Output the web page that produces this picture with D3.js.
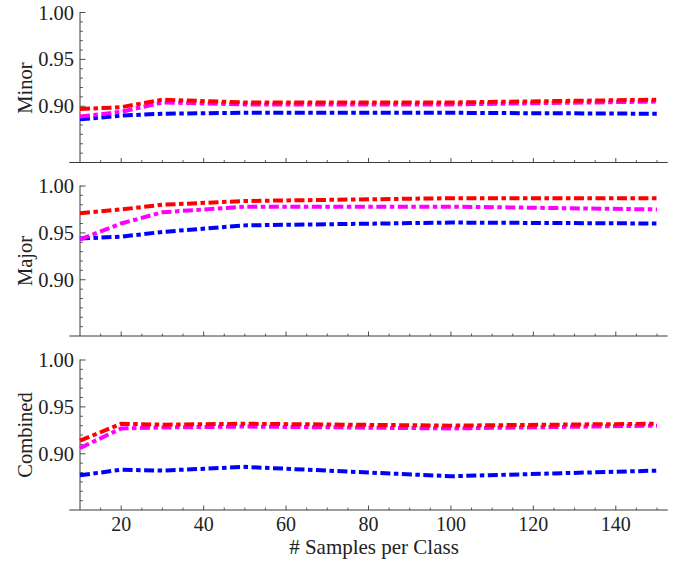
<!DOCTYPE html>
<html>
<head>
<meta charset="utf-8">
<script src="https://cdn.jsdelivr.net/npm/d3@7"></script>
<style>
  html, body { margin: 0; padding: 0; background: #fff; }
  #wrap { position: relative; width: 678px; height: 565px; }
  svg { display: block; position: absolute; left: 0; top: 0; }
  .lbl { position: absolute; white-space: nowrap; color: #222; line-height: 1; }
</style>
</head>
<body>
<div id="wrap"><svg id="chart" width="678" height="565"></svg></div>
<script>
// ---- data ----
const samples = [10, 20, 30, 50, 100, 150];
const panelNames = ["Minor", "Major", "Combined"];
const seriesColors = ["#0000ff", "#ff00ff", "#ff0000"];

const minorBlue    = [0.886, 0.890, 0.892, 0.893, 0.893, 0.892];
const minorMagenta = [0.889, 0.894, 0.904, 0.902, 0.902, 0.905];
const minorRed     = [0.897, 0.899, 0.907, 0.904, 0.904, 0.907];

const majorBlue    = [0.944, 0.946, 0.951, 0.958, 0.961, 0.960];
const majorMagenta = [0.943, 0.960, 0.972, 0.978, 0.978, 0.975];
const majorRed     = [0.971, 0.975, 0.980, 0.984, 0.987, 0.987];

const combBlue     = [0.877, 0.883, 0.882, 0.886, 0.876, 0.882];
const combMagenta  = [0.906, 0.927, 0.928, 0.929, 0.927, 0.930];
const combRed      = [0.914, 0.932, 0.931, 0.932, 0.930, 0.932];

const yTickLabels = [0.90, 0.95, 1.00];
const xTickLabels = [20, 40, 60, 80, 100, 120, 140];
const xLabel = "# Samples per Class";

const panelData = [
  [minorBlue, minorMagenta, minorRed],
  [majorBlue, majorMagenta, majorRed],
  [combBlue, combMagenta, combRed]
];

// ---- layout ----
const svg = d3.select("#chart");
const wrapEl = document.getElementById("wrap");
const panelTops = [12.5, 186, 360];
const panelH = 150;
const x = d3.scaleLinear().domain([10, 150]).range([80, 657]);
const xMinorTicks = d3.range(15, 151, 5).filter(v => v % 20 !== 0);
const yMinorTicks = d3.range(85, 100, 1).map(v => v / 100).filter(v => Math.abs(v - 0.90) > 1e-6 && Math.abs(v - 0.95) > 1e-6);
const axisColor = "#3a3a3a";
const BASE = 0.8375;
const FONT_STACK = "'Liberation Serif', 'Times New Roman', Tinos, FreeSerif, monospace";

function makeDiv(text, fs) {
  const d = document.createElement("div");
  d.className = "lbl";
  d.style.fontFamily = FONT_STACK;
  d.style.fontSize = fs + "px";
  d.textContent = text;
  wrapEl.appendChild(d);
  return d;
}
function label(text, left, baseline, fs, tf) {
  const d = makeDiv(text, fs);
  d.style.left = left + "px";
  d.style.top = (baseline - BASE * fs) + "px";
  d.style.transform = tf;
}

panelData.forEach((series, pi) => {
  const top = panelTops[pi];
  const bottom = top + panelH;
  const y = d3.scaleLinear().domain([0.84, 1.0]).range([bottom, top]);
  const g = svg.append("g");

  g.append("line")
    .attr("x1", x(7.4)).attr("x2", x(152.6))
    .attr("y1", y(0.84)).attr("y2", y(0.84))
    .attr("stroke", axisColor).attr("stroke-width", 1);
  g.append("line")
    .attr("x1", x(10)).attr("x2", x(10))
    .attr("y1", y(0.84)).attr("y2", y(1.0) - 0.5)
    .attr("stroke", axisColor).attr("stroke-width", 1);

  g.selectAll(".xmaj").data(xTickLabels).enter().append("line")
    .attr("x1", d => x(d)).attr("x2", d => x(d))
    .attr("y1", y(0.84)).attr("y2", y(0.84) - 4.5)
    .attr("stroke", axisColor).attr("stroke-width", 0.9);
  g.selectAll(".xmin").data(xMinorTicks).enter().append("line")
    .attr("x1", d => x(d)).attr("x2", d => x(d))
    .attr("y1", y(0.84)).attr("y2", y(0.84) - 2.5)
    .attr("stroke", axisColor).attr("stroke-width", 0.8);

  g.selectAll(".ymaj").data(yTickLabels).enter().append("line")
    .attr("x1", x(10)).attr("x2", x(10) + 5.5)
    .attr("y1", d => y(d)).attr("y2", d => y(d))
    .attr("stroke", axisColor).attr("stroke-width", 0.9);
  g.selectAll(".ymin").data(yMinorTicks).enter().append("line")
    .attr("x1", x(10)).attr("x2", x(10) + 3)
    .attr("y1", d => y(d)).attr("y2", d => y(d))
    .attr("stroke", axisColor).attr("stroke-width", 0.8);

  yTickLabels.forEach(v => {
    label(v.toFixed(2), 74, y(v) + 0.35 * 20.5, 20.5, "translateX(-100%)");
  });

  const fsP = 20.5;
  const pd = makeDiv(panelNames[pi], fsP);
  pd.style.left = (32 - 0.3375 * fsP) + "px";
  pd.style.top = ((top + bottom) / 2) + "px";
  pd.style.transform = "translate(-50%,-50%) rotate(-90deg)";

  const line = d3.line()
    .x((d, i) => x(samples[i]))
    .y(d => y(d));
  series.forEach((vals, si) => {
    g.append("path")
      .datum(vals)
      .attr("d", line)
      .attr("fill", "none")
      .attr("stroke", seriesColors[si])
      .attr("stroke-width", 4)
      .attr("stroke-dasharray", "10,3.5,4.5,3.5");
  });

  if (pi === panelData.length - 1) {
    xTickLabels.forEach(v => {
      label(String(v), x(v), bottom + 21, 20, "translateX(-50%)");
    });
    label(xLabel, 374, 555, 21, "translateX(-50%)");
  }
});
</script>
</body>
</html>
